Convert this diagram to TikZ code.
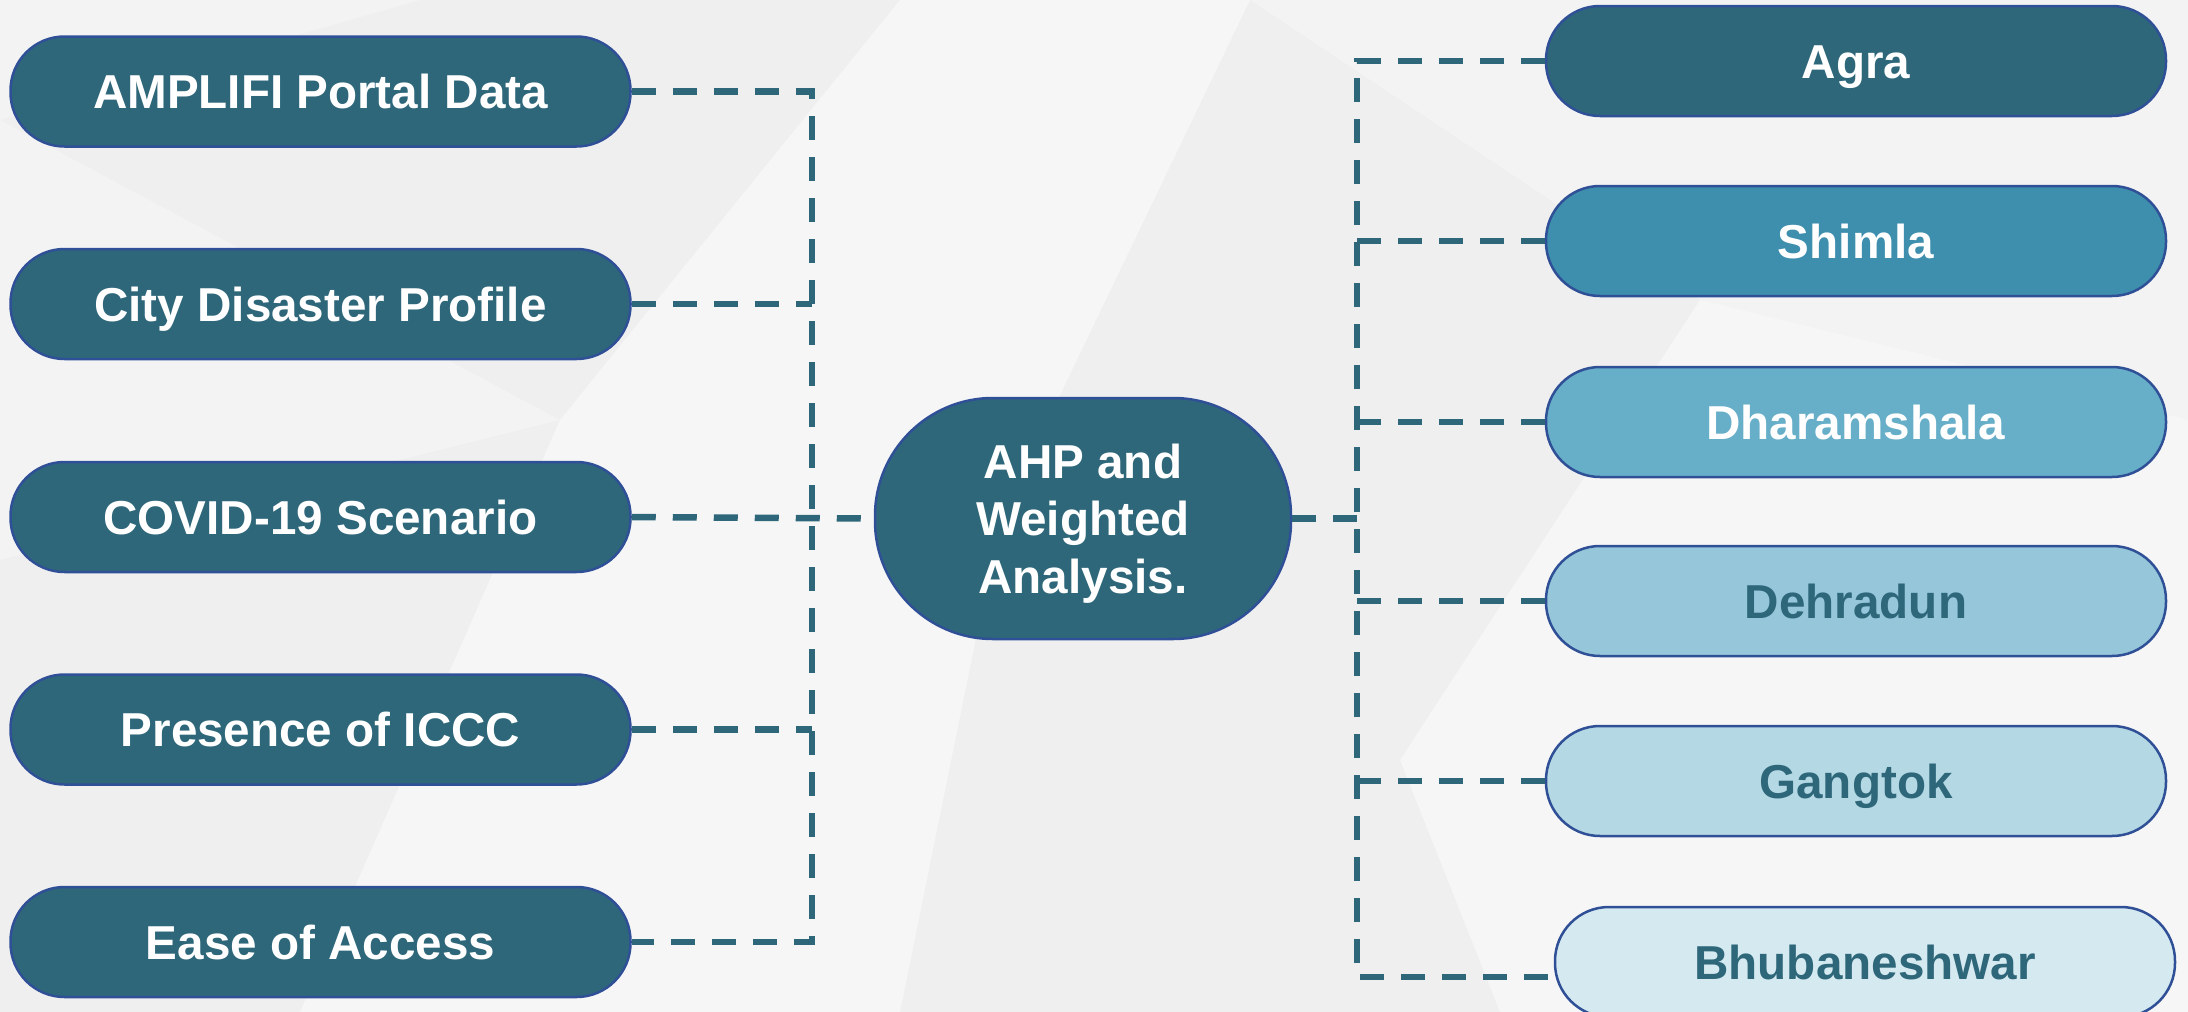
\documentclass[tikz,border=0pt]{standalone}
\usepackage{fontspec}
\setmainfont{Liberation Sans}
\definecolor{teal1}{RGB}{46,103,122}
\definecolor{teal2}{RGB}{62,142,174}
\definecolor{teal3}{RGB}{103,174,200}
\definecolor{teal4}{RGB}{149,198,218}
\definecolor{teal5}{RGB}{180,216,228}
\definecolor{teal6}{RGB}{213,233,240}
\definecolor{edgeblue}{RGB}{47,80,150}
\definecolor{bgcol}{RGB}{243,243,243}
\begin{document}
\begin{tikzpicture}[x=1pt,y=-1pt,
  boxbase/.style={draw=edgeblue, line width=2.5pt, inner sep=0pt,
    font=\fontsize{47.6}{57.5}\selectfont\bfseries, text=white, fill=teal1},
  box/.style={boxbase, rounded corners=54pt,
    minimum width=620pt, minimum height=110pt,
    text height=34pt, text depth=0pt},
  darktext/.style={text=teal1},
  hubbox/.style={boxbase, minimum width=416pt, minimum height=241pt,
    rounded corners=118pt, align=center, text depth=0pt},
  conn/.style={draw=teal1, line width=6.5pt, dash pattern=on 24pt off 17pt},
  facet/.style={fill=white, opacity=0.3, draw=none},
  facetd/.style={fill=black, opacity=0.015, draw=none}
]
\useasboundingbox (0,0) rectangle (2188,1012);
\fill[bgcol] (0,0) rectangle (2188,1012);
% faint faceted background
\fill[facetd] (0,120) -- (420,0) -- (900,0) -- (560,420) -- cycle;
\fill[facet] (560,420) -- (900,0) -- (1250,0) -- (1000,520) -- cycle;
\fill[facetd] (0,560) -- (560,420) -- (300,1012) -- (0,1012) -- cycle;
\fill[facet] (300,1012) -- (560,420) -- (1000,520) -- (900,1012) -- cycle;
\fill[facetd] (1000,520) -- (1250,0) -- (1700,300) -- (1400,760) -- cycle;
\fill[facet] (1400,760) -- (1700,300) -- (2188,420) -- (2188,1012) -- (1500,1012) -- cycle;
\fill[facetd] (900,1012) -- (1000,520) -- (1400,760) -- (1500,1012) -- cycle;

% left column
\node[box] (L1) at (320.5,91.5) {AMPLIFI Portal Data};
\node[box] (L2) at (320.5,304) {City Disaster Profile};
\node[box] (L3) at (320.5,517) {COVID-19 Scenario};
\node[box] (L4) at (320.5,729.5) {Presence of ICCC};
\node[box] (L5) at (320.5,942) {Ease of Access};

% hub
\node[hubbox] (C) at (1083,518.5) {AHP and\\Weighted\\Analysis.};

% right column
\node[box] (R1) at (1856,61) {Agra};
\node[box, fill=teal2] (R2) at (1856,241) {Shimla};
\node[box, fill=teal3] (R3) at (1856,422) {Dharamshala};
\node[box, fill=teal4, darktext] (R4) at (1856,601) {Dehradun};
\node[box, fill=teal5, darktext] (R5) at (1856,781) {Gangtok};
\node[box, fill=teal6, darktext] (R6) at (1865,962) {Bhubaneshwar};

% bus coordinates
\coordinate (lbus) at (812,517);
\coordinate (rbus) at (1357,517);
\coordinate (r6) at ([xshift=-2pt,yshift=-15pt]R6.west);

% connectors
\draw[conn] (L1.east) -- (L1.east -| lbus) -- (L5.east -| lbus) -- (L5.east);
\draw[conn] (L2.east) -- (L2.east -| lbus);
\draw[conn] (L4.east) -- (L4.east -| lbus);
\draw[conn] (L3.east) -- (C.west);
\draw[conn] (C.east) -- (C.east -| rbus);
\draw[conn] (R1.west) -- (R1.west -| rbus) -- (r6 -| rbus) -- (r6);
\draw[conn] (R2.west -| rbus) -- (R2.west);
\draw[conn] (R3.west -| rbus) -- (R3.west);
\draw[conn] (R4.west -| rbus) -- (R4.west);
\draw[conn] (R5.west -| rbus) -- (R5.west);
\end{tikzpicture}
\end{document}
